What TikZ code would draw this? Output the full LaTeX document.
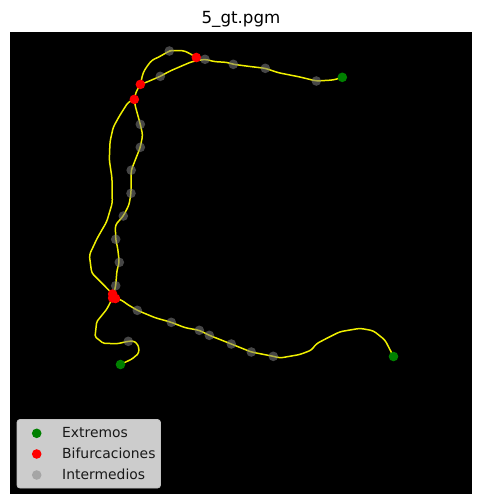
\documentclass[tikz,border=0pt]{standalone}
\usepackage{fontspec}
\setmainfont{DejaVu Sans}
\pgfdeclarelayer{plate}
\pgfdeclarelayer{lines}
\pgfsetlayers{plate,lines,main}
\definecolor{skel}{RGB}{240,240,0}
\definecolor{extgreen}{RGB}{0,128,0}
\definecolor{legbg}{RGB}{204,204,204}
\tikzset{
  marker/.style={circle,inner sep=0pt,minimum size=9.6pt,draw=none},
  extremo/.style={marker,fill=extgreen},
  bifur/.style={marker,fill=red},
  interm/.style={marker,fill=gray,fill opacity=0.55},
  skeleton/.style={draw=skel,line width=1.5pt,line join=miter,rounded corners=3pt},
  hookline/.style={skeleton,rounded corners=1.5pt},
  legtext/.style={anchor=base west,inner sep=0pt,text=black!90,font=\fontsize{13.9}{16}\selectfont},
  titletext/.style={anchor=base,inner sep=0pt,text=black,font=\fontsize{16.67}{20}\selectfont}
}
\begin{document}
\begin{tikzpicture}[x=1pt,y=-1pt]
\useasboundingbox (0,0) rectangle (482,504);
\begin{pgfonlayer}{plate}
\fill[white] (0,0) rectangle (482,504);
\fill[black] (10,32) rectangle (472,494);
\end{pgfonlayer}
\node[titletext] (title) at (241,23.5) {5\_gt.pgm};
% extremos
\node[extremo] (e1) at (342.3,77.3) {};
\node[extremo] (e2) at (393.5,356.5) {};
\node[extremo] (e3) at (120.5,364.5) {};
% bifurcaciones
\node[bifur] (b1) at (196.3,57.5) {};
\node[bifur] (b2) at (140.4,84.4) {};
\node[bifur] (b3) at (134.3,99.4) {};
\node[bifur] (b4) at (112.6,294) {};
\node[bifur] (b5) at (112.6,298) {};
\node[bifur] (b6) at (115.5,298.5) {};
% intermedios
\node[interm] (i1) at (169.3,51) {};
\node[interm] (i2) at (160.3,76.3) {};
\node[interm] (i3) at (205,59.3) {};
\node[interm] (i4) at (233.3,64.3) {};
\node[interm] (i5) at (265.3,68.3) {};
\node[interm] (i6) at (316.3,81) {};
\node[interm] (i7) at (140.3,124.3) {};
\node[interm] (i8) at (140.3,147.3) {};
\node[interm] (i9) at (131.2,170.2) {};
\node[interm] (i10) at (131,193.3) {};
\node[interm] (i11) at (123.3,216) {};
\node[interm] (i12) at (115.7,239.3) {};
\node[interm] (i13) at (119.3,262.3) {};
\node[interm] (i14) at (115.7,285.7) {};
\node[interm] (i15) at (137.3,310.3) {};
\node[interm] (i16) at (171.3,322.3) {};
\node[interm] (i17) at (199.3,330.3) {};
\node[interm] (i18) at (209.3,335.3) {};
\node[interm] (i19) at (231.3,344) {};
\node[interm] (i20) at (251.3,352) {};
\node[interm] (i21) at (273.3,356.3) {};
\node[interm] (i22) at (128.3,341.3) {};
\begin{pgfonlayer}{lines}
% upper arc
\draw[skeleton] (b1.center) -- (188,52.5) -- (183,50.5) -- (172,50.5) -- (i1.center) -- (158,57.5) -- (152,60) -- (146.7,66.7) -- (143,73) -- (b2.center);
\draw[skeleton] (b2.center) -- (136,92) -- (b3.center);
\draw[skeleton] (b2.center) -- (147,82) -- (i2.center) -- (170,71) -- (180,66.7) -- (191.7,61.7) -- (198,60.5) -- (i3.center) -- (215,61.7) -- (226.7,62.3) -- (i4.center) -- (250,66.5) -- (i5.center) -- (278.3,72.7) -- (300,77) -- (i6.center) -- (333.3,80) -- (e1.center);
% left strand
\draw[skeleton] (b3.center) -- (128.3,102) -- (120,115) -- (113.3,127) -- (110,141.7) -- (109.3,160) -- (112,178) -- (112.3,203) -- (106.7,221.7) -- (97.3,238) -- (89.3,255) -- (91.7,273) -- (106.7,288) -- (b4.center);
% right strand
\draw[skeleton] (b3.center) -- (135,105) -- (i7.center) -- (142.7,135) -- (i8.center) -- (i9.center) -- (i10.center) -- (129,205) -- (i11.center) -- (115.3,225) -- (i12.center) -- (117.7,248.3) -- (i13.center) -- (117,270) -- (i14.center) -- (b5.center);
% lower right strand
\draw[skeleton] (b6.center) -- (121.7,300) -- (126.7,304) -- (i15.center) -- (155,317.7) -- (i16.center) -- (185,327.7) -- (i17.center) -- (i18.center) -- (i19.center) -- (i20.center) -- (i21.center) -- (280,358) -- (300,354.5) -- (311.7,350) -- (316,344) -- (326.7,338.3) -- (340,331.7) -- (360,328.3) -- (373.3,330.7) -- (385,340) -- (e2.center);
% lower left strand
\draw[hookline] (b5.center) -- (109,305) -- (106.7,309.3) -- (96.7,321.7) -- (95,336.7) -- (103.3,343.3) -- (117.3,343.7) -- (i22.center) -- (133.5,341) -- (137,343.5) -- (139,348) -- (138.5,353.5) -- (132,359) -- (e3.center);
\end{pgfonlayer}
% legend
\draw[fill=legbg,draw=legbg!95!black,line width=0.8pt,rounded corners=3pt] (17,419.5) rectangle (160.5,488);
\node[extremo] (l1) at (36.7,433.3) {};
\node[bifur] (l2) at (36.7,454) {};
\node[interm,fill opacity=0.5] (l3) at (36.7,475) {};
\node[legtext] (t1) at (62,437) {Extremos};
\node[legtext] (t2) at (62,458) {Bifurcaciones};
\node[legtext] (t3) at (62,479) {Intermedios};
\end{tikzpicture}
\end{document}
